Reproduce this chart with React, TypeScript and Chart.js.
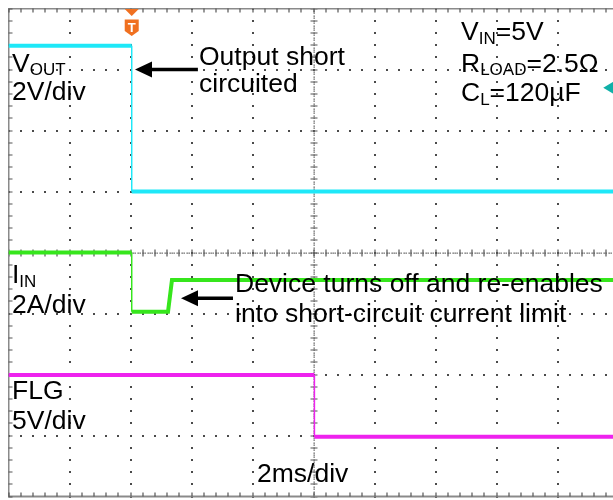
import { useEffect, useRef } from "react";
import { Chart, registerables } from "chart.js";

Chart.register(...registerables);

// Horizontal: time in ms (2 ms/div, 10 divisions). Vertical: screen divisions (8).
const timeGrid = [-4, -2, 0, 2, 4, 6, 8, 10, 12, 14, 16];
const levelGrid = [0, 1, 2, 3, 4, 5, 6, 7, 8];

const vOutTime = [-4, 0.04, 0.04, 16];
const vOutLevel = [7.39, 7.39, 5.0, 5.0];

const iInTime = [-4, 0.04, 0.04, 1.23, 1.36, 16];
const iInLevel = [4.0, 4.0, 3.03, 3.03, 3.55, 3.55];

const flgTime = [-4, 6.03, 6.03, 16];
const flgLevel = [1.99, 1.99, 0.98, 0.98];

const triggerTime = 0.04;
const groundMarkerTime = 15.5;
const groundMarkerLevel = 6.7;

const FONT = '"Liberation Sans", Arial, sans-serif';
const SIZE = 26.5;

type Part = [string, boolean];
type Label = { parts: Part[]; t: number; v: number };

const labels: Label[] = [
  { parts: [["V", false], ["OUT", true]], t: -3.885, v: 6.96 },
  { parts: [["2V/div", false]], t: -3.885, v: 6.5 },
  { parts: [["Output short", false]], t: 2.246, v: 7.07 },
  { parts: [["circuited", false]], t: 2.246, v: 6.63 },
  { parts: [["V", false], ["IN", true], ["=5V", false]], t: 10.836, v: 7.48 },
  { parts: [["R", false], ["LOAD", true], ["=2.5Ω", false]], t: 10.836, v: 6.96 },
  { parts: [["C", false], ["L", true], ["=120µF", false]], t: 10.836, v: 6.48 },
  { parts: [["I", false], ["IN", true]], t: -3.885, v: 3.5 },
  { parts: [["2A/div", false]], t: -3.885, v: 3.01 },
  { parts: [["Device turns off and re-enables", false]], t: 3.426, v: 3.35 },
  { parts: [["into short-circuit current limit", false]], t: 3.426, v: 2.86 },
  { parts: [["FLG", false]], t: -3.885, v: 1.6 },
  { parts: [["5V/div", false]], t: -3.885, v: 1.11 },
  { parts: [["2ms/div", false]], t: 4.148, v: 0.24 },
];

const arrows = [
  { tipT: 0.148, tailT: 2.21, v: 7.0 },
  { tipT: 1.656, tailT: 3.36, v: 3.25 },
];

function pts(xs: number[], ys: number[]) {
  return xs.map((x, i) => ({ x, y: ys[i] }));
}

const scopePlugin = {
  id: "scope",
  beforeDatasetsDraw(chart: any) {
    const { ctx, chartArea: a, scales } = chart;
    const xs = scales.x;
    const ys = scales.y;
    const X = (t: number) => xs.getPixelForValue(t);
    const Y = (v: number) => ys.getPixelForValue(v);
    const tMin = timeGrid[0];
    const tMax = timeGrid[timeGrid.length - 1];
    const tCenter = 6;
    const vCenter = 4;
    const subT = 0.4; // 0.2 div
    const subV = 0.2;
    ctx.save();
    // major dotted grid
    ctx.fillStyle = "#4a4a4a";
    for (const t of timeGrid) {
      if (t === tMin || t === tMax || t === tCenter) continue;
      for (let k = 0; k <= 40; k++) {
        const v = k * subV;
        ctx.fillRect(Math.round(X(t)) - 1, Math.round(Y(v)) - 1, 2, 2);
      }
    }
    for (const v of levelGrid) {
      if (v === 0 || v === 8 || v === vCenter) continue;
      for (let k = 0; k <= 50; k++) {
        const t = tMin + k * subT;
        ctx.fillRect(Math.round(X(t)) - 1, Math.round(Y(v)) - 1, 2, 2);
      }
    }
    // center axes: dense dots + ticks
    ctx.fillStyle = "#5a5a5a";
    for (let k = 0; k <= 250; k++) {
      const t = tMin + k * 0.08;
      ctx.fillRect(Math.round(X(t)) - 0.5, Math.round(Y(vCenter)) - 0.5, 1.3, 1.3);
    }
    for (let k = 0; k <= 200; k++) {
      const v = k * 0.04;
      ctx.fillRect(Math.round(X(tCenter)) - 0.5, Math.round(Y(v)) - 0.5, 1.3, 1.3);
    }
    ctx.strokeStyle = "#555";
    ctx.lineWidth = 1.2;
    ctx.beginPath();
    for (let k = 0; k <= 50; k++) {
      const px = Math.round(X(tMin + k * subT));
      const py = Math.round(Y(vCenter));
      ctx.moveTo(px, py - 3.5);
      ctx.lineTo(px, py + 3.5);
    }
    for (let k = 0; k <= 40; k++) {
      const px = Math.round(X(tCenter));
      const py = Math.round(Y(k * subV));
      ctx.moveTo(px - 3.5, py);
      ctx.lineTo(px + 3.5, py);
    }
    ctx.stroke();
    // border
    ctx.strokeStyle = "#8a8a8a";
    ctx.lineWidth = 2;
    ctx.strokeRect(a.left, a.top, a.right - a.left, a.bottom - a.top);
    ctx.strokeStyle = "#555";
    ctx.lineWidth = 1.2;
    ctx.beginPath();
    for (let k = 0; k <= 50; k++) {
      const px = Math.round(X(tMin + k * subT));
      ctx.moveTo(px, a.top);
      ctx.lineTo(px, a.top + 4);
      ctx.moveTo(px, a.bottom);
      ctx.lineTo(px, a.bottom - 4);
    }
    for (let k = 0; k <= 40; k++) {
      const py = Math.round(Y(k * subV));
      ctx.moveTo(a.left, py);
      ctx.lineTo(a.left + 4, py);
      ctx.moveTo(a.right, py);
      ctx.lineTo(a.right - 4, py);
    }
    ctx.stroke();
    ctx.restore();
  },
  afterDatasetsDraw(chart: any) {
    const { ctx, chartArea: a, scales } = chart;
    const X = (t: number) => scales.x.getPixelForValue(t);
    const Y = (v: number) => scales.y.getPixelForValue(v);
    ctx.save();
    // trigger marker
    const cx = X(triggerTime);
    const top = a.top + 0.5;
    ctx.fillStyle = "#f07020";
    ctx.beginPath();
    ctx.moveTo(cx - 7, top);
    ctx.lineTo(cx + 7, top);
    ctx.lineTo(cx, top + 7);
    ctx.closePath();
    ctx.fill();
    ctx.beginPath();
    ctx.moveTo(cx - 7, top + 10.5);
    ctx.lineTo(cx + 7, top + 10.5);
    ctx.lineTo(cx + 7, top + 22);
    ctx.lineTo(cx, top + 27);
    ctx.lineTo(cx - 7, top + 22);
    ctx.closePath();
    ctx.fill();
    ctx.fillStyle = "#fff";
    ctx.font = `bold 13px ${FONT}`;
    ctx.textAlign = "center";
    ctx.textBaseline = "alphabetic";
    ctx.fillText("T", cx, top + 22.5);
    // ground marker for channel 1 at the right edge
    const gy = Y(groundMarkerLevel);
    const gx = X(groundMarkerTime);
    ctx.fillStyle = "#10b0a8";
    ctx.beginPath();
    ctx.moveTo(gx, gy);
    ctx.lineTo(gx + 10, gy - 6);
    ctx.lineTo(gx + 10, gy + 6);
    ctx.closePath();
    ctx.fill();
    // text labels
    ctx.textAlign = "left";
    ctx.fillStyle = "#000";
    for (const lab of labels) {
      let px = X(lab.t);
      const py = Y(lab.v);
      for (const [s, sub] of lab.parts) {
        const fs = sub ? 17 : SIZE;
        ctx.font = `${fs}px ${FONT}`;
        ctx.fillText(s, px, sub ? py + 3.5 : py);
        px += ctx.measureText(s).width;
      }
    }
    // arrows
    ctx.strokeStyle = "#000";
    ctx.fillStyle = "#000";
    ctx.lineWidth = 3.5;
    for (const ar of arrows) {
      const tip = X(ar.tipT);
      const tail = X(ar.tailT);
      const ay = Y(ar.v);
      ctx.beginPath();
      ctx.moveTo(tip + 14, ay);
      ctx.lineTo(tail, ay);
      ctx.stroke();
      ctx.beginPath();
      ctx.moveTo(tip, ay);
      ctx.lineTo(tip + 17, ay - 8);
      ctx.lineTo(tip + 17, ay + 8);
      ctx.closePath();
      ctx.fill();
    }
    ctx.restore();
  },
};

export default function App() {
  const ref = useRef<HTMLCanvasElement | null>(null);
  useEffect(() => {
    if (!ref.current) return;
    const vertical = (c: any) =>
      c.p0.parsed.x === c.p1.parsed.x ? 1.5 : undefined;
    const chart = new Chart(ref.current, {
      type: "line",
      data: {
        datasets: [
          {
            label: "VOUT",
            data: pts(vOutTime, vOutLevel),
            borderColor: "#1ee8f8",
            borderWidth: 4,
            pointRadius: 0,
            tension: 0,
            segment: { borderWidth: vertical },
          },
          {
            label: "IIN",
            data: pts(iInTime, iInLevel),
            borderColor: "#36e61c",
            borderWidth: 4,
            pointRadius: 0,
            tension: 0,
            segment: { borderWidth: vertical },
          },
          {
            label: "FLG",
            data: pts(flgTime, flgLevel),
            borderColor: "#ee22ee",
            borderWidth: 4,
            pointRadius: 0,
            tension: 0,
            segment: { borderWidth: vertical },
          },
        ],
      },
      options: {
        animation: false,
        responsive: false,
        devicePixelRatio: 1,
        layout: { padding: { left: 0.5, top: 0.5, right: 1.5, bottom: 3.5 } },
        plugins: { legend: { display: false }, tooltip: { enabled: false } },
        scales: {
          x: {
            type: "linear",
            min: timeGrid[0],
            max: timeGrid[timeGrid.length - 1],
            display: false,
          },
          y: {
            type: "linear",
            min: levelGrid[0],
            max: levelGrid[levelGrid.length - 1],
            display: false,
          },
        },
      },
      plugins: [scopePlugin],
    });
    return () => chart.destroy();
  }, []);
  return (
    <div
      style={{
        position: "fixed",
        left: 8,
        top: 8,
        width: 605,
        height: 492,
        overflow: "hidden",
        background: "#fff",
      }}
    >
      <canvas ref={ref} width={612} height={492} style={{ display: "block" }} />
    </div>
  );
}
